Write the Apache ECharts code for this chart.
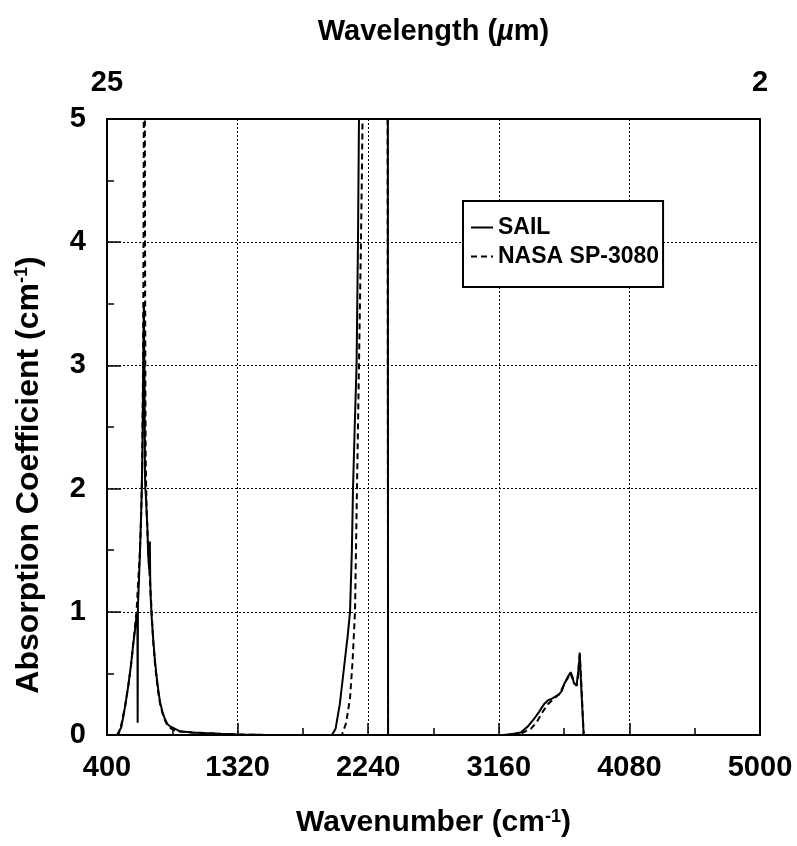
<!DOCTYPE html>
<html><head><meta charset="utf-8">
<script src="https://cdn.jsdelivr.net/npm/echarts@6/dist/echarts.min.js"></script>
<style>html,body{margin:0;padding:0;background:#fff}#c{width:797px;height:846px}</style>
</head><body><div id="c"></div>
<script>
// ---- data ----
const seriesNames = ['SAIL', 'NASA SP-3080'];
const topTickLabels = ['25', '2'];   // wavelength (µm) at 400 and 5000 cm-1

const sailWavenumber = [400, 470, 482, 500, 515, 530, 550, 568, 585, 598, 608, 614, 616, 618, 625, 632, 638, 644, 648, 651, 654, 656, 658, 660, 662, 665, 667, 670, 674, 679, 684, 690, 697, 700, 702, 704, 707, 715, 726, 738, 750, 762, 773, 790, 808, 825, 844, 880, 914, 1000, 1100, 1200, 1320, 1500, 1700, 1900, 1985, 2010, 2040, 2070, 2095, 2112, 2125, 2133, 2145, 2158, 2168, 2175, 2185, 2250, 2300, 2350, 2378, 2380, 2382, 2600, 2900, 3100, 3195, 3265, 3315, 3365, 3408, 3445, 3478, 3505, 3525, 3555, 3584, 3605, 3619, 3645, 3666, 3680, 3689, 3700, 3708, 3720, 3727, 3730, 3735, 3745, 3758, 3800, 4200, 4600, 5000];
const sailValue = [0, 0, 0.01, 0.06, 0.15, 0.25, 0.4, 0.56, 0.74, 0.86, 0.97, 1.0, 0.1, 1.05, 1.25, 1.47, 1.7, 1.94, 2.2, 2.47, 2.85, 3.14, 3.35, 3.51, 3.2, 2.8, 2.14, 2.0, 1.94, 1.81, 1.7, 1.47, 1.34, 1.4, 1.57, 1.3, 1.14, 0.95, 0.77, 0.6, 0.47, 0.36, 0.27, 0.19, 0.13, 0.09, 0.07, 0.05, 0.03, 0.02, 0.015, 0.01, 0.005, 0.002, 0, 0, 0, 0.05, 0.25, 0.55, 0.8, 1.0, 1.5, 2.0, 2.5, 3.0, 4.0, 5.0, 6.0, 6.0, 6.0, 6.0, 6.0, 0, 0, 0, 0, 0, 0, 0.01, 0.02, 0.07, 0.13, 0.19, 0.25, 0.28, 0.29, 0.31, 0.33, 0.36, 0.41, 0.47, 0.51, 0.47, 0.42, 0.41, 0.40, 0.52, 0.6, 0.67, 0.53, 0.29, 0, 0, 0, 0, 0];

const nasaWavenumber = [400, 480, 500, 527, 550, 573, 590, 608, 620, 632, 640, 644, 648, 651, 654, 656, 658, 660, 663, 666, 668, 670, 672, 676, 680, 685, 690, 700, 710, 718, 726, 738, 750, 762, 773, 790, 808, 825, 844, 870, 900, 1000, 1100, 1200, 1320, 1500, 1900, 2055, 2085, 2112, 2130, 2147, 2154, 2161, 2168, 2175, 2182, 2189, 2195, 2200, 2210, 2300, 2376, 2380, 2600, 3215, 3315, 3385, 3425, 3465, 3505, 3545, 3585, 3625, 3645, 3665, 3675, 3685, 3710, 3720, 3725, 3730, 3740, 3750, 3758, 4200, 5000];
const nasaValue = [0, 0, 0.08, 0.23, 0.4, 0.6, 0.8, 1.0, 1.25, 1.5, 1.75, 1.95, 2.2, 2.6, 3.0, 3.5, 4.3, 5.5, 6.5, 5.5, 4.0, 3.0, 2.3, 2.0, 1.8, 1.65, 1.5, 1.3, 1.1, 0.92, 0.75, 0.58, 0.45, 0.34, 0.26, 0.18, 0.12, 0.08, 0.06, 0.04, 0.03, 0.02, 0.015, 0.01, 0.005, 0, 0, 0, 0.1, 0.3, 0.6, 1.0, 1.5, 2.0, 2.5, 3.0, 3.5, 4.0, 4.5, 5.0, 6.0, 6.0, 6.0, 0, 0, 0, 0.01, 0.05, 0.1, 0.18, 0.25, 0.29, 0.33, 0.42, 0.46, 0.5, 0.47, 0.44, 0.40, 0.5, 0.6, 0.65, 0.45, 0.2, 0, 0, 0];

// ---- chart ----
const FONT = '"Liberation Sans", Arial, Helvetica, sans-serif';
const zip = (xs, ys) => xs.map((x, i) => [x, ys[i]]);
const chart = echarts.init(document.getElementById('c'), null, {renderer: 'canvas'});
const axisLineStyle = {color: '#000', width: 2};
const gridStyle = {color: '#000', width: 1, type: [2, 2]};
const plainNumber = v => String(v);
const txt = (size) => ({fontSize: size, color: '#000', fontFamily: FONT, fontWeight: 'bold'});
const supRich = {sup: Object.assign(txt(18), {verticalAlign: 'top', padding: [0, 0, 12, 0]})};

chart.setOption({
  animation: false,
  backgroundColor: '#fff',
  textStyle: {fontFamily: FONT, color: '#000'},
  grid: {left: 107, right: 37, top: 119, bottom: 111, containLabel: false},
  legend: {
    left: 463, top: 201, orient: 'vertical',
    data: seriesNames,
    itemWidth: 22, itemHeight: 14, itemGap: 6, itemTextGap: 1,
    padding: [15, 4, 19, 7],
    borderColor: '#000', borderWidth: 2, backgroundColor: '#fff',
    itemStyle: {opacity: 0, color: 'rgba(0,0,0,0)', borderColor: 'rgba(0,0,0,0)', borderWidth: 0},
    textStyle: txt(23)
  },
  xAxis: [
    {
      type: 'value', min: 400, max: 5000, interval: 920, position: 'bottom',
      name: 'Wavenumber (cm{sup|-1})', nameLocation: 'middle', nameGap: 73,
      nameTextStyle: Object.assign(txt(30), {rich: supRich}),
      axisLine: {show: true, onZero: false, lineStyle: axisLineStyle},
      axisTick: {show: true, inside: true, length: 12, lineStyle: {color: '#000', width: 1.5}},
      minorTick: {show: true, splitNumber: 2, length: 7, lineStyle: {color: '#000', width: 1.5}},
      axisLabel: Object.assign(txt(29), {margin: 18, formatter: plainNumber}),
      splitLine: {show: true, lineStyle: gridStyle}
    },
    {
      type: 'value', min: 400, max: 5000, interval: 4600, position: 'top',
      name: 'Wavelength ({it|µ}m)', nameLocation: 'middle', nameGap: 73,
      nameTextStyle: Object.assign(txt(29), {rich: {it: Object.assign(txt(29), {fontStyle: 'italic'})}}),
      axisLine: {show: true, onZero: false, lineStyle: axisLineStyle},
      axisTick: {show: false},
      axisLabel: Object.assign(txt(29), {margin: 22, formatter: (v, i) => topTickLabels[i]}),
      splitLine: {show: false}
    }
  ],
  yAxis: [
    {
      type: 'value', min: 0, max: 5, interval: 1, position: 'left',
      name: 'Absorption Coefficient (cm{sup|-1})', nameLocation: 'middle', nameGap: 62, nameRotate: 90,
      nameTextStyle: Object.assign(txt(32), {rich: supRich, padding: [0, 96, 0, 0]}),
      axisLine: {show: true, onZero: false, lineStyle: axisLineStyle},
      axisTick: {show: true, inside: true, length: 14, lineStyle: {color: '#000', width: 1.5}},
      minorTick: {show: true, splitNumber: 2, length: 7, lineStyle: {color: '#000', width: 1.5}},
      axisLabel: Object.assign(txt(29), {margin: 21}),
      splitLine: {show: true, lineStyle: gridStyle}
    },
    {
      type: 'value', min: 0, max: 5, position: 'right',
      axisLine: {show: true, onZero: false, lineStyle: axisLineStyle},
      axisTick: {show: false}, axisLabel: {show: false}, splitLine: {show: false}
    }
  ],
  series: [
    {
      name: seriesNames[0], type: 'line', xAxisIndex: 0, yAxisIndex: 0,
      data: zip(sailWavenumber, sailValue), symbol: 'none', clip: true,
      lineStyle: {color: '#000', width: 2}, itemStyle: {color: '#000'}
    },
    {
      name: seriesNames[1], type: 'line', xAxisIndex: 0, yAxisIndex: 0,
      data: zip(nasaWavenumber, nasaValue), symbol: 'none', clip: true,
      lineStyle: {color: '#000', width: 2, type: [6, 4]}, itemStyle: {color: '#000'}
    }
  ]
});
</script></body></html>
